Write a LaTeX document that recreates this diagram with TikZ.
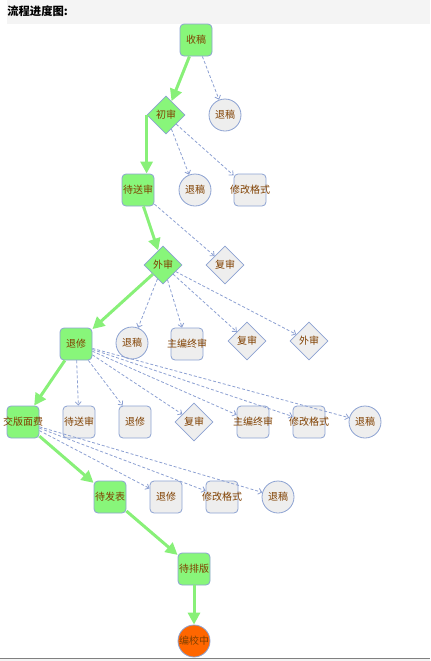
\documentclass[tikz,border=0pt]{standalone}
\usepackage{fontspec}
\newfontfamily\cjk{Noto Sans CJK SC}
\usepackage{tikz}
\usetikzlibrary{shapes.geometric,arrows.meta,positioning,calc}
\usepackage{xcolor}
\definecolor{stgreen}{RGB}{136,246,122}
\definecolor{stgrey}{RGB}{238,238,238}
\definecolor{stborder}{RGB}{140,162,210}
\definecolor{sttext}{RGB}{128,64,0}
\definecolor{floworange}{RGB}{255,102,0}
\definecolor{flowgreen}{RGB}{136,240,120}
\definecolor{backblue}{RGB}{140,160,210}
\definecolor{headbg}{RGB}{244,244,244}
\newcommand{\lbl}[1]{\makebox[0pt]{#1}}
\tikzset{
    sbox/.style={draw=stborder, line width=0.6pt, rounded corners=3pt,
                 fill=#1, minimum size=24pt, inner sep=0pt,
                 font=\cjk\fontsize{7.5}{9}\selectfont, text=sttext},
    scirc/.style={circle, draw=stborder, line width=0.6pt, fill=#1,
                  minimum size=24pt, inner sep=0pt,
                  font=\cjk\fontsize{7.5}{9}\selectfont, text=sttext},
    sdiam/.style={diamond, draw=stborder, line width=0.6pt, fill=#1,
                  minimum size=28.5pt, inner sep=0pt,
                  font=\cjk\fontsize{7.5}{9}\selectfont, text=sttext},
}

\begin{document}
\begin{tikzpicture}[
    x=0.75pt, y=-0.75pt,
    flow/.style={line width=2.25pt, flowgreen,
                 -{Triangle[length=9pt,width=9pt]}},
    back/.style={line width=0.6pt, backblue, dash pattern=on 2.25pt off 1.5pt,
                 -{Straight Barb[length=2.5pt,width=4.5pt]}}
]
    \useasboundingbox (0,0) rectangle (430,661);
    % header and footer
    \fill[headbg] (7,0) rectangle (430,24);
    \node[anchor=west, inner sep=0pt, font=\cjk\bfseries\fontsize{8.5}{10}\selectfont]
        (title) at (7,11) {流程进度图:};
    \fill[headbg] (0,658) rectangle (430,661);
    \draw[gray, line width=0.75pt] (0,658) -- (430,658);

    % main line
    \node[sbox=stgreen] (sg) at (196,40) {\lbl{收稿}};
    \node[sdiam=stgreen] (cs) at (166,115) {\lbl{初审}};
    \node[sbox=stgreen] (dss) at (138,190) {\lbl{待送审}};
    \node[sdiam=stgreen] (ws) at (163,265) {\lbl{外审}};
    \node[sbox=stgreen] (tx) at (76,344) {\lbl{退修}};
    \node[sbox=stgreen] (jb) at (23,422) {\lbl{交版面费}};
    \node[sbox=stgreen] (dfb) at (110,497) {\lbl{待发表}};
    \node[sbox=stgreen] (dpb) at (194,569) {\lbl{待排版}};
    \node[scirc=floworange] (bjz) at (194,641) {\lbl{编校中}};

    % side steps
    \node[scirc=stgrey] (ts1) at (225,115) {\lbl{退稿}};
    \node[scirc=stgrey] (ts2) at (195,190) {\lbl{退稿}};
    \node[sbox=stgrey] (xg1) at (250,190) {\lbl{修改格式}};
    \node[sdiam=stgrey] (fs1) at (225,265) {\lbl{复审}};
    \node[scirc=stgrey] (ts3) at (132,343) {\lbl{退稿}};
    \node[sbox=stgrey] (zb1) at (187,344) {\lbl{主编终审}};
    \node[sdiam=stgrey] (fs2) at (247,341) {\lbl{复审}};
    \node[sdiam=stgrey] (ws2) at (309,341) {\lbl{外审}};
    \node[sbox=stgrey] (dss2) at (79,422) {\lbl{待送审}};
    \node[sbox=stgrey] (tx2) at (135,422) {\lbl{退修}};
    \node[sdiam=stgrey] (fs3) at (194,422) {\lbl{复审}};
    \node[sbox=stgrey] (zb2) at (253,422) {\lbl{主编终审}};
    \node[sbox=stgrey] (xg2) at (309,422) {\lbl{修改格式}};
    \node[scirc=stgrey] (ts4) at (365,422) {\lbl{退稿}};
    \node[sbox=stgrey] (tx3) at (166,497) {\lbl{退修}};
    \node[sbox=stgrey] (xg3) at (222,497) {\lbl{修改格式}};
    \node[scirc=stgrey] (ts5) at (278,497) {\lbl{退稿}};

    % taken path
    \draw[flow] (sg) -- (cs);
    \draw[flow] (cs.west) -- (cs.west |- dss.north);
    \draw[flow] (dss) -- (ws);
    \draw[flow] (ws) -- (tx);
    \draw[flow] (tx) -- (jb);
    \draw[flow] (jb) -- (dfb);
    \draw[flow] (dfb) -- (dpb);
    \draw[flow] (dpb) -- (bjz);

    % other options
    \draw[back] (sg) -- (ts1);
    \draw[back] (cs) -- (ts2);
    \draw[back] (cs) -- (xg1);
    \draw[back] (dss) -- (fs1);
    \draw[back] (ws) -- (ts3);
    \draw[back] (ws) -- (zb1);
    \draw[back] (ws) -- (fs2);
    \draw[back] (ws) -- (ws2);
    \draw[back] (tx) -- (dss2);
    \draw[back] (tx) -- (tx2);
    \draw[back] (tx) -- (fs3);
    \draw[back] (tx) -- (zb2);
    \draw[back] (tx) -- (xg2);
    \draw[back] (tx) -- (ts4);
    \draw[back] (jb) -- (tx3);
    \draw[back] (jb) -- (xg3);
    \draw[back] (jb) -- (ts5);
\end{tikzpicture}
\end{document}
